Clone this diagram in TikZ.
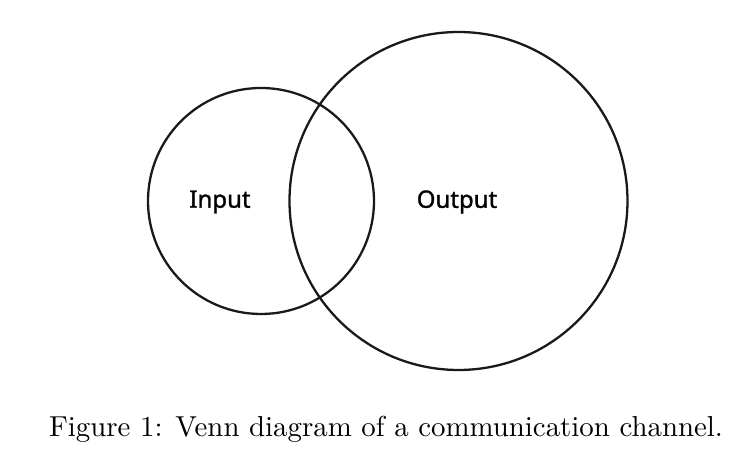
\documentclass[tikz,border=0pt]{standalone}
\usepackage{fontspec}
\newfontfamily\labelfont[FakeBold=1.2]{Noto Sans}
\begin{document}
\begin{tikzpicture}[x=0.35pt,y=-0.35pt,
  setcircle/.style={draw=black!90,line width=0.8pt},
  setlabel/.style={font=\labelfont\bfseries\fontsize{8.4}{10}\selectfont,inner sep=0pt},
  captext/.style={font=\fontsize{10.1}{12}\selectfont,inner sep=0pt,anchor=base}]
\useasboundingbox (0,0) rectangle (755,459);
\draw[setcircle] (261,201) circle[radius=113];
\draw[setcircle] (458.5,201) circle[radius=169];
\node[setlabel] (in) at (220,202) {Input};
\node[setlabel] (out) at (457,202) {Output};
\node[captext] (cap) at (386,437) {Figure 1: Venn diagram of a communication channel.};
\end{tikzpicture}
\end{document}
